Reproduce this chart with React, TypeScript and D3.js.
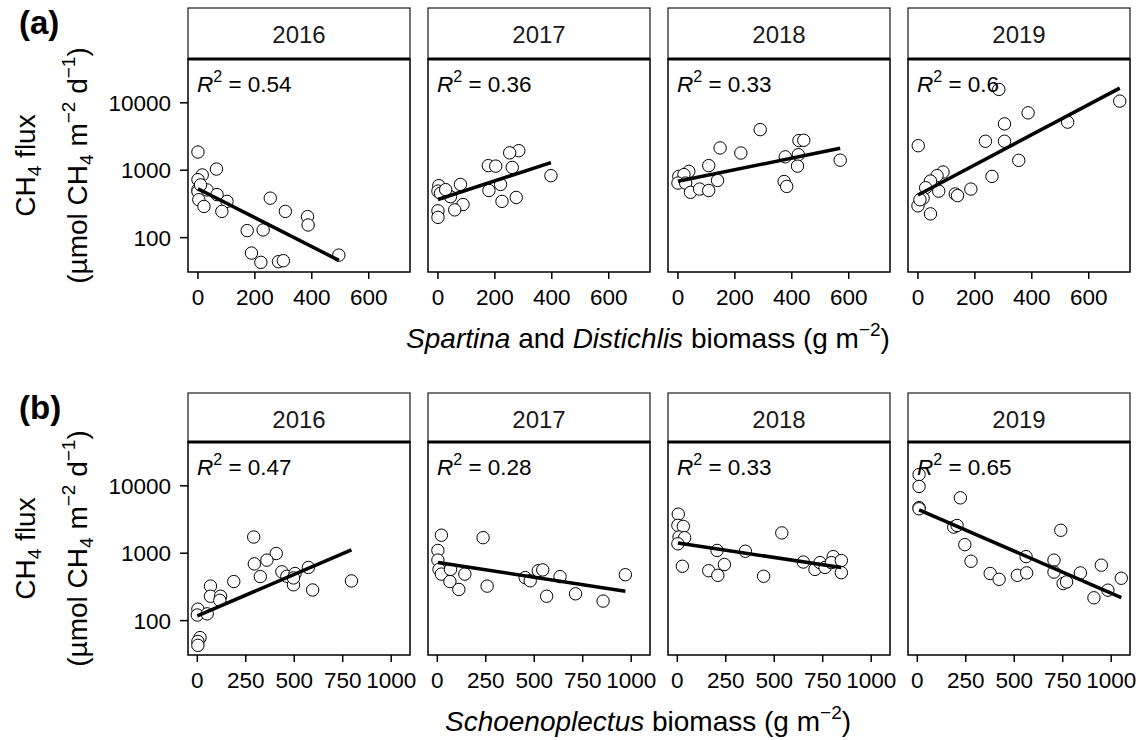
import React from "react";
import { scaleLinear, scaleLog, line, extent } from "d3";

// facet labels and fit stats
const years = ["2016", "2017", "2018", "2019"];
const r2A = ["0.54", "0.36", "0.33", "0.6"];
const r2B = ["0.47", "0.28", "0.33", "0.65"];

// log10(flux) = intercept + slope * biomass
const fitA = [[2.726, -0.002147], [2.566, 0.00138], [2.837, 0.000856], [2.633, 0.002236]];
const fitB = [[2.07, 0.001234], [2.864, -0.000441], [3.154, -0.000434], [3.655, -0.001248]];

const yTicks = [100, 1000, 10000];
const xTicksA = [0, 200, 400, 600];
const xTicksB = [0, 250, 500, 750, 1000];

// (a) Spartina + Distichlis biomass vs CH4 flux
const spartina2016 = [
  [0, 1860], [15, 850], [65, 1040], [0, 725], [0, 515], [0, 480], [32, 510], [67, 435],
  [3, 365], [21, 290], [102, 345], [84, 245], [254, 385], [307, 245], [385, 205], [387, 154],
  [173, 127], [229, 130], [188, 59], [221, 43], [283, 44], [300, 45.5], [495, 55], [9, 605],
];
const spartina2017 = [
  [284, 1950], [252, 1810], [177, 1170], [203, 1150], [261, 1100], [397, 830], [220, 615],
  [179, 500], [3, 590], [0, 490], [79, 615], [44, 405], [9, 455], [88, 310], [59, 258],
  [225, 345], [275, 395], [0, 250], [0, 200], [27, 515],
];
const spartina2018 = [
  [289, 4000], [425, 2750], [442, 2780], [148, 2140], [221, 1800], [377, 1580], [423, 1700],
  [570, 1410], [420, 1150], [108, 1170], [38, 960], [3, 810], [21, 860], [0, 645], [27, 645],
  [139, 705], [44, 470], [76, 525], [108, 500], [373, 680], [382, 575],
];
const spartina2019 = [
  [284, 15800], [709, 10600], [387, 7100], [304, 4870], [526, 5170], [237, 2690], [304, 2690],
  [1, 2310], [354, 1400], [260, 810], [88, 940], [67, 830], [44, 690], [27, 550], [73, 490],
  [186, 525], [131, 445], [139, 420], [18, 385], [0, 296], [44, 225], [7, 365],
];

// (b) Schoenoplectus biomass vs CH4 flux
const schoeno2016 = [
  [291, 1740], [407, 990], [359, 790], [294, 695], [325, 450], [436, 530], [462, 455],
  [504, 500], [573, 615], [496, 340], [595, 285], [795, 388], [188, 380], [68, 325], [68, 230],
  [120, 230], [116, 200], [3, 148], [0, 121], [51, 126], [14, 56], [3, 49], [3, 43], [496, 430],
];
const schoeno2017 = [
  [21, 1850], [236, 1700], [3, 1100], [3, 790], [9, 575], [21, 490], [68, 575], [142, 490],
  [65, 380], [111, 290], [257, 325], [453, 435], [479, 390], [521, 550], [544, 565], [633, 450],
  [564, 230], [713, 250], [855, 195], [970, 480],
];
const schoeno2018 = [
  [5, 3800], [3, 2590], [31, 2500], [9, 1740], [38, 1700], [3, 1380], [539, 2000], [205, 1100],
  [351, 1070], [26, 640], [162, 550], [209, 470], [243, 680], [445, 455], [650, 740], [710, 575],
  [736, 725], [762, 615], [804, 890], [795, 725], [846, 780], [846, 515],
];
const schoeno2019 = [
  [9, 14700], [9, 9800], [9, 4750], [9, 4560], [222, 6630], [188, 2440], [205, 2580],
  [245, 1340], [277, 760], [376, 500], [422, 410], [516, 470], [564, 510], [561, 890],
  [740, 2190], [705, 790], [705, 525], [752, 355], [770, 375], [841, 510], [949, 665],
  [911, 218], [983, 283], [1052, 425],
];

const rowA = [spartina2016, spartina2017, spartina2018, spartina2019];
const rowB = [schoeno2016, schoeno2017, schoeno2018, schoeno2019];

const FONT = "'Liberation Sans', Arial, Helvetica, sans-serif";
const W = 1141;
const H = 740;
const panelLeft = [188, 428, 668, 908];
const panelW = 222;

function Row({ data, fits, r2s, xDomain, xTicks, stripTop, plotTop, plotBottom, tag, title }) {
  const y = scaleLog().domain([10 ** 1.49, 10 ** 4.65]).range([plotBottom, plotTop]);
  const mid = (plotTop + plotBottom) / 2;
  return (
    <g>
      {data.map((pts, i) => {
        const x = scaleLinear().domain(xDomain).range([panelLeft[i], panelLeft[i] + panelW]);
        const [x0, x1] = extent(pts, (d) => d[0]);
        const [b0, b1] = fits[i];
        const fitLine = line()
          .x((d) => x(d))
          .y((d) => y(10 ** (b0 + b1 * d)));
        return (
          <g key={i}>
            <rect x={panelLeft[i]} y={stripTop} width={panelW} height={plotTop - stripTop}
              fill="#fff" stroke="#1a1a1a" strokeWidth={1.2} />
            <text x={panelLeft[i] + panelW / 2} y={stripTop + 35} textAnchor="middle"
              fontSize={24} fill="#1a1a1a">{years[i]}</text>
            <rect x={panelLeft[i]} y={plotTop} width={panelW} height={plotBottom - plotTop}
              fill="#fff" stroke="#000" strokeWidth={1.5} />
            <line x1={panelLeft[i]} x2={panelLeft[i] + panelW} y1={plotTop} y2={plotTop}
              stroke="#000" strokeWidth={3} />
            {pts.map((d, j) => (
              <circle key={j} cx={x(d[0])} cy={y(d[1])} r={6.2} fill="#fff" stroke="#000" strokeWidth={1} />
            ))}
            <path d={fitLine([x0, x1])} fill="none" stroke="#000" strokeWidth={3.5} />
            <text x={panelLeft[i] + 9} y={plotTop + 33} fontSize={22.5} fill="#000">
              <tspan fontStyle="italic">R</tspan>
              <tspan dy={-10} fontSize={16}>2</tspan>
              <tspan dy={10}>{" = " + r2s[i]}</tspan>
            </text>
            {xTicks.map((t) => (
              <g key={t}>
                <line x1={x(t)} x2={x(t)} y1={plotBottom} y2={plotBottom + 7} stroke="#000" strokeWidth={1.5} />
                <text x={x(t)} y={plotBottom + 33} textAnchor="middle" fontSize={22.5} fill="#000">{t}</text>
              </g>
            ))}
          </g>
        );
      })}
      {yTicks.map((t) => (
        <g key={t}>
          <line x1={180} x2={188} y1={y(t)} y2={y(t)} stroke="#000" strokeWidth={1.5} />
          <text x={171} y={y(t) + 8} textAnchor="end" fontSize={22.5} fill="#000">{t}</text>
        </g>
      ))}
      <text transform={`translate(35,${mid}) rotate(-90)`} textAnchor="middle" fontSize={28} fill="#000">
        CH<tspan dy={6} fontSize={19}>4</tspan><tspan dy={-6}> flux</tspan>
      </text>
      <text transform={`translate(87,${mid}) rotate(-90)`} textAnchor="middle" fontSize={28} fill="#000">
        (µmol CH<tspan dy={6} fontSize={19}>4</tspan>
        <tspan dy={-6}> m</tspan><tspan dy={-12} fontSize={19}>−2</tspan>
        <tspan dy={12}> d</tspan><tspan dy={-12} fontSize={19}>−1</tspan>
        <tspan dy={12}>)</tspan>
      </text>
      <text x={19} y={stripTop + 26} fontSize={33} fontWeight="bold" fill="#000">{tag}</text>
      {title(plotBottom + 76)}
    </g>
  );
}

export default function App() {
  return (
    <svg width={W} height={H} style={{ position: "absolute", left: 0, top: 0, fontFamily: FONT }}>
      <rect width={W} height={H} fill="#fff" />
      <Row data={rowA} fits={fitA} r2s={r2A} xDomain={[-35, 745]} xTicks={xTicksA}
        stripTop={8} plotTop={59} plotBottom={272} tag="(a)"
        title={(yy) => (
          <text x={648} y={yy} textAnchor="middle" fontSize={28} fill="#000">
            <tspan fontStyle="italic">Spartina</tspan> and <tspan fontStyle="italic">Distichlis</tspan> biomass (g m
            <tspan dy={-12} fontSize={19}>−2</tspan><tspan dy={12}>)</tspan>
          </text>
        )} />
      <Row data={rowB} fits={fitB} r2s={r2B} xDomain={[-48, 1097]} xTicks={xTicksB}
        stripTop={393} plotTop={442} plotBottom={655} tag="(b)"
        title={(yy) => (
          <text x={648} y={yy} textAnchor="middle" fontSize={28} fill="#000">
            <tspan fontStyle="italic">Schoenoplectus</tspan> biomass (g m
            <tspan dy={-12} fontSize={19}>−2</tspan><tspan dy={12}>)</tspan>
          </text>
        )} />
    </svg>
  );
}
